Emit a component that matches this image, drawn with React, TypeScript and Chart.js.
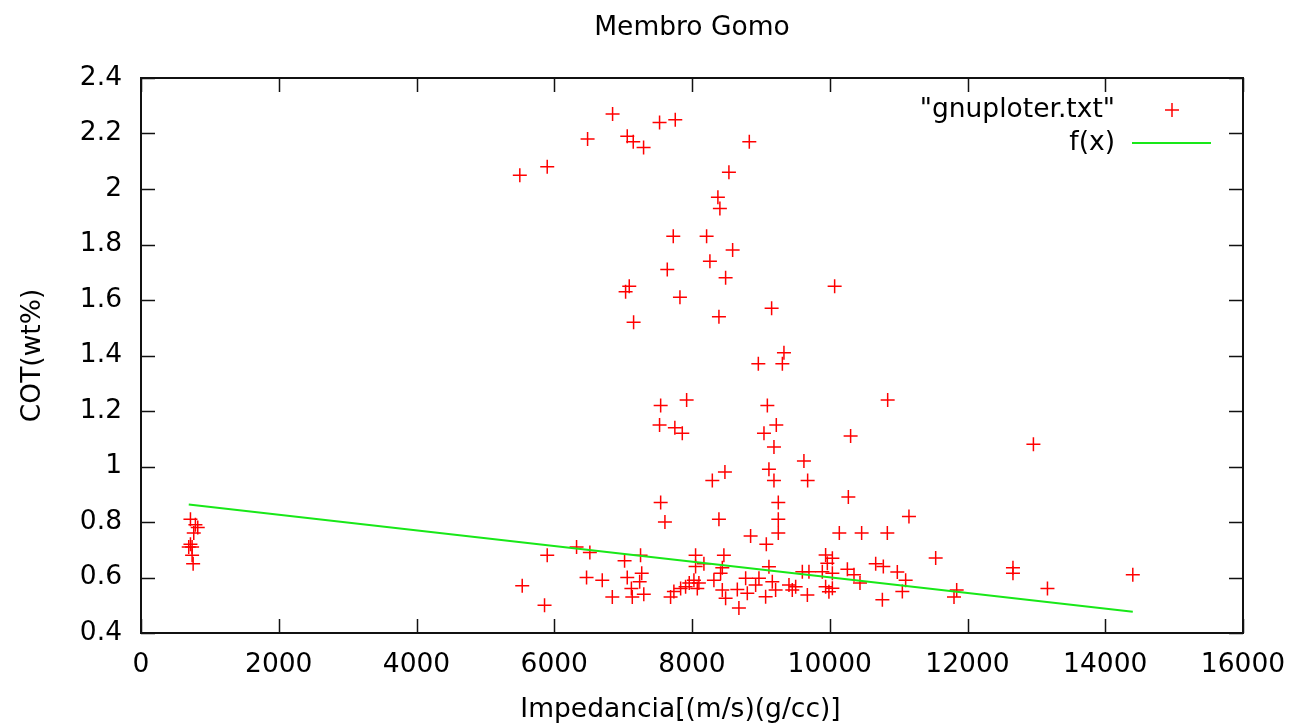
import React, { useEffect, useRef } from "react";
import { Chart, registerables } from "chart.js";

Chart.register(...registerables);

// Impedance (x) and organic carbon (y) samples of the Gomo member
const impedancia = [
  693, 718, 790, 824, 766, 718, 742, 742, 757,
  5500, 5898, 6484, 6847, 7060, 7147, 7297, 7529, 7757, 8832,
  8536, 8376, 8405, 7728, 8212, 8590, 8260, 7641, 8488, 7089,
  7036, 10071, 7825, 9156, 7152, 8391, 9335, 9312, 8963,
  7545, 7529, 7751, 7859, 7922, 7545, 7607, 9094, 9224, 9045,
  9190, 9117, 9190, 8295, 8478, 9253, 9253, 9253, 8391, 8851,
  9079, 9625, 9679, 10303, 10270, 10139, 10463, 10836, 11150, 10841,
  12957,
  11538, 12660, 12660, 13161, 14400, 11804, 11843, 10764, 11054, 11102,
  10981, 10667, 10778, 10256, 10352, 10439,
  5535, 5898, 5859, 6324, 6517, 6469, 6697, 6843, 7021, 7253,
  7060, 7270, 7240, 7120, 7133, 7300,
  7689, 7737, 7835, 7907, 7960, 8028, 8077, 8100, 8052, 8052,
  8173, 8463, 8440, 8415, 8318, 8440, 8488,
  8681, 8658, 8803, 8779, 8972, 8924, 9069, 9166, 9214, 9117,
  9408, 9456, 9505, 9675, 9602, 9698, 9892, 9940, 10038, 9965,
  10038, 9940, 10038, 9988,
];

const cot = [
  0.71, 0.81, 0.79, 0.78, 0.76, 0.72, 0.71, 0.68, 0.65,
  2.05, 2.08, 2.18, 2.27, 2.19, 2.17, 2.15, 2.24, 2.25, 2.17,
  2.06, 1.97, 1.93, 1.83, 1.83, 1.78, 1.74, 1.71, 1.68, 1.65,
  1.63, 1.65, 1.61, 1.57, 1.52, 1.54, 1.41, 1.37, 1.37,
  1.22, 1.15, 1.14, 1.12, 1.24, 0.87, 0.80, 1.22, 1.15, 1.12,
  1.07, 0.99, 0.95, 0.95, 0.98, 0.87, 0.81, 0.76, 0.81, 0.75,
  0.72, 1.02, 0.95, 1.11, 0.89, 0.76, 0.76, 0.76, 0.82, 1.24,
  1.08,
  0.67, 0.635, 0.615, 0.56, 0.61, 0.53, 0.555, 0.52, 0.55, 0.59,
  0.62, 0.65, 0.64, 0.63, 0.61, 0.58,
  0.57, 0.68, 0.50, 0.71, 0.69, 0.60, 0.59, 0.53, 0.66, 0.68,
  0.60, 0.615, 0.585, 0.56, 0.53, 0.54,
  0.53, 0.55, 0.56, 0.567, 0.58, 0.59, 0.56, 0.58, 0.68, 0.64,
  0.65, 0.68, 0.635, 0.615, 0.59, 0.555, 0.525,
  0.49, 0.557, 0.543, 0.597, 0.597, 0.573, 0.531, 0.585, 0.555, 0.639,
  0.573, 0.555, 0.567, 0.537, 0.621, 0.621, 0.621, 0.681, 0.669, 0.651,
  0.615, 0.567, 0.561, 0.549,
];

// Linear fit f(x) = a + b*x
const fitIntercept = 0.883;
const fitSlope = -2.82e-5;

const xTickStep = 2000;
const yTickStep = 0.2;

const chartTitle = "Membro Gomo";
const xAxisTitle = "Impedancia[(m/s)(g/cc)]";
const yAxisTitle = "COT(wt%)";
const dataLabel = '"gnuploter.txt"';
const fitLabel = "f(x)";

const FONT_FAMILY = '"DejaVu Sans", sans-serif';
const FONT_SIZE = 26.5;
const RED = "#ff0000";
const GREEN = "#18e818";

const gnuplotFrame = {
  id: "gnuplotFrame",
  afterDraw(chart: any) {
    const { ctx, chartArea, scales } = chart;
    const { left, right, top, bottom } = chartArea;
    const tickLen = 14;
    ctx.save();
    ctx.strokeStyle = "#111";
    ctx.lineWidth = 1.5;
    ctx.beginPath();
    for (const t of scales.x.ticks) {
      const px = Math.round(scales.x.getPixelForValue(t.value)) + 0.5;
      ctx.moveTo(px, bottom);
      ctx.lineTo(px, bottom - tickLen);
      ctx.moveTo(px, top);
      ctx.lineTo(px, top + tickLen);
    }
    for (const t of scales.y.ticks) {
      const py = Math.round(scales.y.getPixelForValue(t.value)) + 0.5;
      ctx.moveTo(left, py);
      ctx.lineTo(left + tickLen, py);
      ctx.moveTo(right, py);
      ctx.lineTo(right - tickLen, py);
    }
    ctx.stroke();
    ctx.lineWidth = 2;
    ctx.strokeRect(left, top, right - left, bottom - top);

    ctx.font = `${FONT_SIZE}px ${FONT_FAMILY}`;
    ctx.fillStyle = "#000";
    ctx.textBaseline = "middle";

    // title and x-axis label
    ctx.textAlign = "center";
    ctx.fillText(chartTitle, (left + right) / 2, 28);
    ctx.fillText(xAxisTitle, (left + right) / 2 - 11.5, 710);

    // key in the upper right corner
    ctx.textAlign = "right";
    const textRight = right - 128;
    const row1 = top + 32;
    const row2 = top + 65;
    ctx.fillText(dataLabel, textRight, row1);
    ctx.fillText(fitLabel, textRight, row2);
    const sampleX = textRight + 57;
    ctx.strokeStyle = RED;
    ctx.lineWidth = 1.5;
    ctx.beginPath();
    ctx.moveTo(sampleX - 7, row1);
    ctx.lineTo(sampleX + 7, row1);
    ctx.moveTo(sampleX, row1 - 7);
    ctx.lineTo(sampleX, row1 + 7);
    ctx.stroke();
    ctx.strokeStyle = GREEN;
    ctx.lineWidth = 2;
    ctx.beginPath();
    ctx.moveTo(textRight + 17, row2);
    ctx.lineTo(textRight + 96, row2);
    ctx.stroke();
    ctx.restore();
  },
};

export default function App() {
  const canvasRef = useRef<HTMLCanvasElement | null>(null);

  useEffect(() => {
    const canvas = canvasRef.current;
    if (!canvas) return;

    const points = impedancia.map((x, i) => ({ x, y: cot[i] }));
    const xMin = Math.min(...impedancia);
    const xMax = Math.max(...impedancia);
    const fitLine = [
      { x: xMin, y: fitIntercept + fitSlope * xMin },
      { x: xMax, y: fitIntercept + fitSlope * xMax },
    ];

    const font = { family: FONT_FAMILY, size: FONT_SIZE, weight: "normal" as const, lineHeight: 1.2 };

    const chart = new Chart(canvas, {
      type: "scatter",
      data: {
        datasets: [
          {
            label: fitLabel,
            data: fitLine,
            showLine: true,
            borderColor: GREEN,
            backgroundColor: GREEN,
            borderWidth: 2,
            pointRadius: 0,
            fill: false,
          },
          {
            label: dataLabel,
            data: points,
            pointStyle: "cross",
            pointRadius: 7,
            borderColor: RED,
            backgroundColor: RED,
            borderWidth: 1.5,
          },
        ],
      },
      options: {
        responsive: false,
        animation: false,
        events: [],
        layout: { padding: { left: 0, right: 52, top: 78, bottom: 0 } },
        plugins: {
          legend: { display: false },
          tooltip: { enabled: false },
          title: { display: false },
        },
        scales: {
          x: {
            type: "linear",
            min: 0,
            max: 16000,
            afterFit: (s: any) => {
              s.height = 94;
            },
            grid: { display: false, drawTicks: true, tickLength: 8 },
            border: { display: false },
            ticks: {
              stepSize: xTickStep,
              color: "#000",
              font,
              padding: 8,
              maxRotation: 0,
              autoSkip: false,
              callback: (v: any) => String(Math.round(Number(v))),
            },
            title: { display: false },
          },
          y: {
            type: "linear",
            min: 0.4,
            max: 2.4,
            afterFit: (s: any) => {
              s.width = 141;
            },
            grid: { display: false, drawTicks: false },
            border: { display: false },
            ticks: {
              stepSize: yTickStep,
              color: "#000",
              font,
              padding: 19,
              autoSkip: false,
              callback: (v: any) => String(Number(Number(v).toFixed(1))),
            },
            title: {
              display: true,
              text: yAxisTitle,
              color: "#000",
              font,
              padding: { top: 17, bottom: 0 },
            },
          },
        },
      },
      plugins: [gnuplotFrame],
    });

    return () => chart.destroy();
  }, []);

  return (
    <div
      style={{
        position: "fixed",
        left: 0,
        top: 0,
        width: 1295,
        height: 727,
        background: "#fff",
      }}
    >
      <canvas ref={canvasRef} width={1295} height={727} style={{ display: "block" }} />
    </div>
  );
}
